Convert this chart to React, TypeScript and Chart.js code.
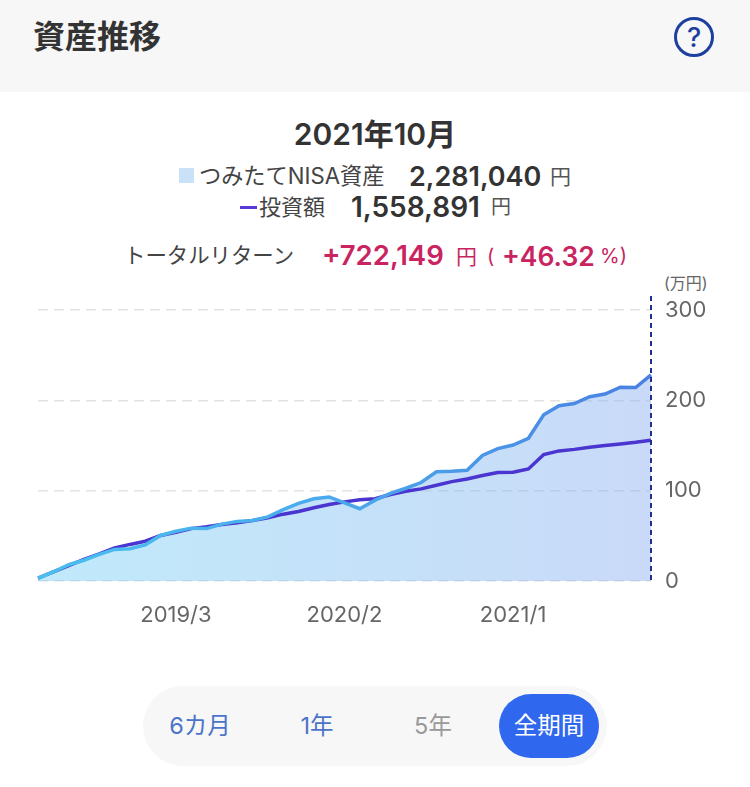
import React, { useEffect, useRef } from "react";
import { Chart, registerables } from "chart.js";

Chart.register(...registerables);

const months = [
  "2018/6","2018/7","2018/8","2018/9","2018/10","2018/11","2018/12",
  "2019/1","2019/2","2019/3","2019/4","2019/5","2019/6","2019/7","2019/8","2019/9","2019/10","2019/11","2019/12",
  "2020/1","2020/2","2020/3","2020/4","2020/5","2020/6","2020/7","2020/8","2020/9","2020/10","2020/11","2020/12",
  "2021/1","2021/2","2021/3","2021/4","2021/5","2021/6","2021/7","2021/8","2021/9","2021/10",
];
const assetValues = [
  3.3, 10, 18, 23, 29.5, 35, 35.7, 40, 50.4, 55, 58.5, 58, 63, 66, 67, 71, 79, 86, 91, 93, 86.5,
  80, 89.5, 97, 102.7, 109, 121, 121.5, 122.5, 139, 146.5, 150.5, 158, 184, 194, 196.5, 204, 207, 214.6, 214.2, 228.1,
];
const investedValues = [
  3.3, 10, 17, 24, 30, 36.5, 40.5, 44, 50.4, 54, 58, 60, 62.5, 64.5, 67, 70, 74, 77, 81, 84.6, 87.6,
  90, 91, 95.7, 99.4, 102, 106, 110, 113, 116.7, 120, 120.4, 124, 140, 144, 145.7, 148, 150, 151.6, 153.5, 155.9,
];
const shownLabels = ["2019/3", "2020/2", "2021/1"];
const yTicks = [0, 100, 200, 300];

const latin = 'Inter, "Noto Sans CJK JP", sans-serif';

type TextProps = {
  x: number;
  y: number;
  size: number;
  color: string;
  weight?: number;
  center?: boolean;
  children: React.ReactNode;
};

function T({ x, y, size, color, weight = 400, center = false, children }: TextProps) {
  return (
    <span
      style={{
        position: "absolute",
        left: x,
        top: y,
        transform: center ? "translate(-50%,-50%)" : "translateY(-50%)",
        fontSize: size,
        color,
        fontWeight: weight,
        whiteSpace: "nowrap",
        lineHeight: 1,
      }}
    >
      {children}
    </span>
  );
}

function horizontal(chart: Chart, stops: [number, string][]) {
  const area = chart.chartArea;
  if (!area) return stops[0][1];
  const g = chart.ctx.createLinearGradient(area.left, 0, area.right, 0);
  stops.forEach(([o, c]) => g.addColorStop(o, c));
  return g;
}

const cursorLine = {
  id: "cursorLine",
  afterDatasetsDraw(chart: Chart) {
    const { ctx, chartArea, scales } = chart;
    const x = scales.x.getPixelForValue(months.length - 1);
    ctx.save();
    ctx.strokeStyle = "#1f2f8f";
    ctx.lineWidth = 2;
    ctx.setLineDash([5, 4]);
    ctx.beginPath();
    ctx.moveTo(x, chartArea.top - 14);
    ctx.lineTo(x, chartArea.bottom);
    ctx.stroke();
    ctx.restore();
  },
};

export default function App() {
  const ref = useRef<HTMLCanvasElement>(null);

  useEffect(() => {
    const chart = new Chart(ref.current!, {
      type: "line",
      data: {
        labels: months,
        datasets: [
          {
            label: "つみたてNISA資産",
            data: assetValues,
            borderWidth: 3.5,
            pointRadius: 0,
            tension: 0,
            fill: "origin",
            borderColor: (c: any) =>
              horizontal(c.chart, [[0, "#48c0ee"], [0.5, "#4ba8ec"], [1, "#4a80e2"]]),
            backgroundColor: (c: any) =>
              horizontal(c.chart, [[0, "rgba(130,212,246,0.5)"], [1, "rgba(147,181,241,0.5)"]]),
          },
          {
            label: "投資額",
            data: investedValues,
            borderWidth: 3.5,
            pointRadius: 0,
            tension: 0,
            fill: false,
            borderColor: "#4a35d0",
          },
        ],
      },
      options: {
        animation: false,
        responsive: false,
        maintainAspectRatio: false,
        layout: { padding: { left: 38, top: 20, right: 0, bottom: 0 } },
        plugins: {
          legend: { display: false },
          tooltip: { enabled: false },
          filler: { drawTime: "beforeDatasetsDraw" },
        },
        scales: {
          x: {
            offset: false,
            grid: { display: false },
            border: { display: false },
            afterFit: (s: any) => { s.height = 59; },
            ticks: {
              autoSkip: false,
              maxRotation: 0,
              padding: 13,
              color: "#666",
              font: { size: 22, family: latin },
              callback(_v: any, i: number) {
                return shownLabels.includes(months[i]) ? months[i] : "";
              },
            },
          },
          y: {
            position: "right",
            min: 0,
            max: 300,
            afterBuildTicks: (s: any) => { s.ticks = yTicks.map((value) => ({ value })); },
            afterFit: (s: any) => { s.width = 99; s.paddingTop = 0; s.paddingBottom = 0; },
            border: { display: false, dash: [10, 6] },
            grid: { color: "#e2e2e2", lineWidth: 1.5, drawTicks: false },
            ticks: { padding: 14, color: "#666", font: { size: 22, family: latin } },
          },
        },
      },
      plugins: [cursorLine],
    });
    return () => chart.destroy();
  }, []);

  return (
    <div
      style={{
        position: "absolute",
        left: 0,
        top: 0,
        width: 750,
        height: 787,
        background: "#fff",
        overflow: "hidden",
        fontFamily: latin,
      }}
    >
      <div style={{ position: "absolute", left: 0, top: 0, width: 750, height: 92, background: "#f7f7f7" }} />
      <T x={33} y={37} size={32} color="#333" weight={700}>資産推移</T>
      <div
        style={{
          position: "absolute", left: 674, top: 17, width: 40, height: 40, boxSizing: "border-box",
          border: "3px solid #1d3f9e", borderRadius: "50%",
        }}
      />
      <T x={694} y={37} size={27} color="#1d3f9e" weight={500} center>?</T>

      <T x={375} y={134} size={30} color="#333" weight={600} center>2021年10月</T>

      <div style={{ position: "absolute", left: 179, top: 168, width: 15, height: 15, background: "#c9e2f8" }} />
      <T x={199} y={176} size={22.2} color="#444">つみたてNISA資産</T>
      <T x={409} y={176} size={27} color="#333" weight={600}>2,281,040</T>
      <T x={550} y={176} size={21} color="#555">円</T>

      <div style={{ position: "absolute", left: 240, top: 206, width: 17, height: 3, background: "#5a3ad6" }} />
      <T x={259} y={207} size={22} color="#444">投資額</T>
      <T x={351} y={207} size={28} color="#333" weight={600}>1,558,891</T>
      <T x={491} y={207} size={20} color="#555">円</T>

      <T x={124} y={256} size={21.4} color="#444">トータルリターン</T>
      <T x={322} y={256} size={27.5} color="#c9245f" weight={600}>+722,149</T>
      <T x={456} y={256} size={21} color="#c9245f">円</T>
      <T x={487} y={256} size={20} color="#c9245f">(</T>
      <T x={502} y={256} size={26.5} color="#c9245f" weight={600}>+46.32</T>
      <T x={600} y={256} size={20} color="#c9245f">%)</T>

      <T x={664} y={283} size={16} color="#666">(万円)</T>

      <canvas
        ref={ref}
        width={750}
        height={350}
        style={{ position: "absolute", left: 0, top: 290, width: 750, height: 350 }}
      />

      <div style={{ position: "absolute", left: 143, top: 686, width: 464, height: 80, borderRadius: 40, background: "#f7f7f7" }} />
      <div style={{ position: "absolute", left: 499, top: 694, width: 100, height: 64, borderRadius: 32, background: "#2f67ee" }} />
      <T x={200} y={726} size={23.5} color="#4a74c9" center>6カ月</T>
      <T x={317} y={726} size={23.5} color="#4a74c9" center>1年</T>
      <T x={433} y={726} size={23.5} color="#999" center>5年</T>
      <T x={549} y={726} size={23.5} color="#fff" center>全期間</T>
    </div>
  );
}
